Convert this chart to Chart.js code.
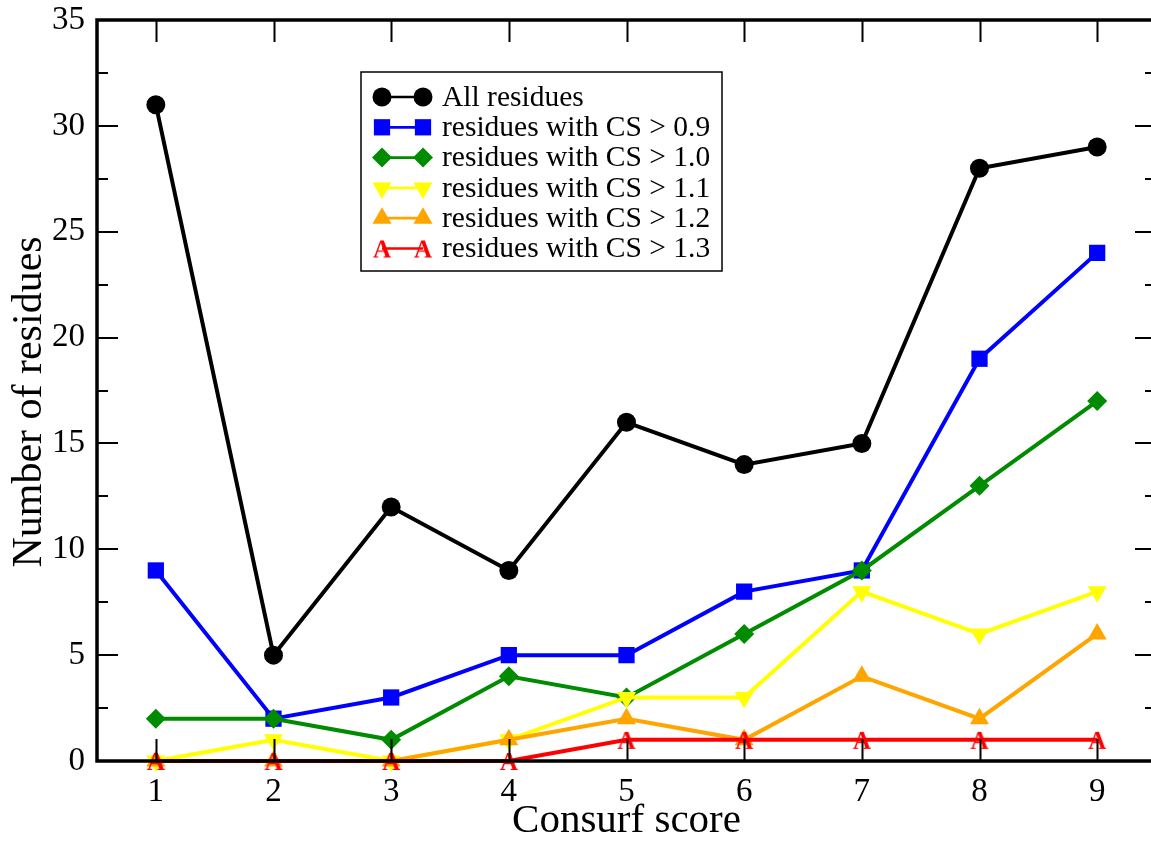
<!DOCTYPE html>
<html>
<head>
<meta charset="utf-8">
<script src="https://cdn.jsdelivr.net/npm/chart.js@4.4.0/dist/chart.umd.min.js"></script>
<style>
  html, body { margin: 0; padding: 0; background: #fff; overflow: hidden; }
  #wrap { position: relative; width: 1156px; height: 841px; }
</style>
</head>
<body>
<div id="wrap"><canvas id="c"></canvas></div>
<script>
// ===== Consurf score vs number of residues =====
const scores = [1, 2, 3, 4, 5, 6, 7, 8, 9];
const allRes = [31, 5, 12, 9, 16, 14, 15, 28, 29];
const cs09 = [9, 2, 3, 5, 5, 8, 9, 19, 24];
const cs10 = [2, 2, 1, 4, 3, 6, 9, 13, 17];
const cs11 = [0, 1, 0, 1, 3, 3, 8, 6, 8];
const cs12 = [0, 0, 0, 1, 2, 1, 4, 2, 6];
const cs13 = [0, 0, 0, 0, 1, 1, 1, 1, 1];
const seriesNames = ['All residues', 'residues with CS > 0.9', 'residues with CS > 1.0',
    'residues with CS > 1.1', 'residues with CS > 1.2', 'residues with CS > 1.3'];
const yTicks = [0, 5, 10, 15, 20, 25, 30, 35];
const yMinor = [2.5, 7.5, 12.5, 17.5, 22.5, 27.5, 32.5];
const xTitle = 'Consurf score';
const yTitle = 'Number of residues';

const SERIF = '"Liberation Serif", "Times New Roman", serif';
const palette = ['#000000', '#0000ff', '#008b00', '#ffff00', '#ffa500', '#ff0000'];

// red "A" symbol, like the grace char marker
function letterMarker(color) {
    const c = document.createElement('canvas');
    c.width = 28; c.height = 28;
    const g = c.getContext('2d');
    g.fillStyle = color;
    g.font = 'bold 25px ' + SERIF;
    g.textAlign = 'center';
    g.textBaseline = 'alphabetic';
    g.fillText('A', 14, 22.5);
    return c;
}

const markers = [
    { pointStyle: 'circle', radius: 9.5, rotation: 0 },
    { pointStyle: 'rect', radius: 11.5, rotation: 0 },
    { pointStyle: 'rectRot', radius: 10, rotation: 0 },
    { pointStyle: 'triangle', radius: 11, rotation: 180 },
    { pointStyle: 'triangle', radius: 11, rotation: 0 },
    { pointStyle: letterMarker('#ff0000'), radius: 10, rotation: 0 }
];

const series = [allRes, cs09, cs10, cs11, cs12, cs13];
const datasets = series.map((vals, i) => ({
    label: seriesNames[i],
    data: scores.map((s, j) => ({ x: s, y: vals[j] })),
    borderColor: palette[i],
    backgroundColor: palette[i],
    borderWidth: 4,
    pointStyle: markers[i].pointStyle,
    pointRadius: markers[i].radius,
    pointRotation: markers[i].rotation,
    pointBackgroundColor: palette[i],
    pointBorderColor: palette[i],
    pointBorderWidth: 0,
    tension: 0,
    clip: false,
    order: series.length - i
}));

const frame = {
    id: 'frame',
    afterDatasetsDraw(chart) {
        const { ctx, chartArea: a, scales: { x, y } } = chart;
        ctx.save();
        ctx.strokeStyle = '#000';
        ctx.lineWidth = 2;
        ctx.beginPath();
        scores.forEach(v => {
            const px = Math.round(x.getPixelForValue(v)) + 0.5;
            ctx.moveTo(px, a.bottom); ctx.lineTo(px, a.bottom - 22);
            ctx.moveTo(px, a.top); ctx.lineTo(px, a.top + 22);
        });
        yTicks.forEach(v => {
            const py = Math.round(y.getPixelForValue(v));
            ctx.moveTo(a.left, py); ctx.lineTo(a.left + 21, py);
            ctx.moveTo(a.right, py); ctx.lineTo(a.right - 21, py);
        });
        yMinor.forEach(v => {
            const py = Math.round(y.getPixelForValue(v));
            ctx.moveTo(a.left, py); ctx.lineTo(a.left + 11, py);
            ctx.moveTo(a.right, py); ctx.lineTo(a.right - 11, py);
        });
        ctx.stroke();
        ctx.lineWidth = 3.5;
        ctx.strokeRect(a.left, a.top, a.right - a.left, a.bottom - a.top);
        ctx.restore();
    },
    afterDraw(chart) {
        const { ctx, chartArea: a } = chart;
        ctx.save();
        // axis titles
        ctx.fillStyle = '#000';
        ctx.font = '41px ' + SERIF;
        ctx.textAlign = 'center';
        ctx.textBaseline = 'alphabetic';
        ctx.fillText(xTitle, (a.left + a.right) / 2, 832);
        ctx.save();
        ctx.translate(41, 402);
        ctx.rotate(-Math.PI / 2);
        ctx.font = '42px ' + SERIF;
        ctx.fillText(yTitle, 0, 0);
        ctx.restore();

        // legend box
        const lx = 361, ly = 72, lw = 361, lh = 199;
        ctx.fillStyle = '#fff';
        ctx.fillRect(lx, ly, lw, lh);
        ctx.strokeStyle = '#000';
        ctx.lineWidth = 1.5;
        ctx.strokeRect(lx, ly, lw, lh);
        const drawPoint = Chart.helpers && Chart.helpers.drawPoint;
        datasets.forEach((d, i) => {
            const ry = 97 + i * 30.3;
            ctx.strokeStyle = palette[i];
            ctx.lineWidth = 2.7;
            ctx.beginPath();
            ctx.moveTo(382, ry); ctx.lineTo(423, ry);
            ctx.stroke();
            ctx.fillStyle = palette[i];
            [382, 423].forEach(px => {
                if (drawPoint) drawPoint(ctx, { pointStyle: markers[i].pointStyle, radius: markers[i].radius, rotation: markers[i].rotation, borderWidth: 0 }, px, ry);
            });
            ctx.fillStyle = '#000';
            ctx.font = '29.5px ' + SERIF;
            ctx.textAlign = 'left';
            ctx.textBaseline = 'middle';
            ctx.fillText(d.label, 442, ry + 1);
        });
        ctx.restore();
    }
};

new Chart(document.getElementById('c'), {
    type: 'line',
    data: { datasets },
    options: {
        responsive: true,
        maintainAspectRatio: false,
        animation: false,
        layout: { autoPadding: false, padding: { top: 20, left: 0, right: 0, bottom: 0 } },
        plugins: { legend: { display: false }, tooltip: { enabled: false } },
        scales: {
            x: {
                type: 'linear', min: 0.5, max: 9.5,
                afterBuildTicks: s => { s.ticks = scores.map(v => ({ value: v })); },
                afterFit: s => { s.height = 80; s.paddingLeft = 0; s.paddingRight = 0; },
                grid: { display: false, drawTicks: false },
                border: { display: false },
                ticks: { color: '#000', font: { family: SERIF, size: 33 }, padding: 12, maxRotation: 0 }
            },
            y: {
                type: 'linear', min: 0, max: 35,
                afterBuildTicks: s => { s.ticks = yTicks.map(v => ({ value: v })); },
                afterFit: s => { s.width = 97; s.paddingTop = 0; s.paddingBottom = 0; },
                grid: { display: false, drawTicks: false },
                border: { display: false },
                ticks: { color: '#000', font: { family: SERIF, size: 33 }, padding: 12 }
            }
        }
    },
    plugins: [frame]
});
</script>
</body>
</html>
